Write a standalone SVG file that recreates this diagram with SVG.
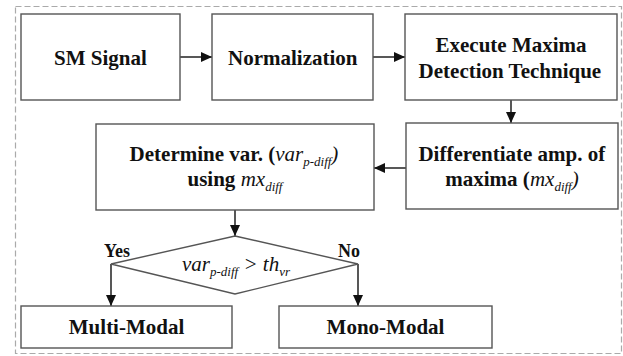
<svg xmlns="http://www.w3.org/2000/svg" width="623" height="356" viewBox="0 0 623 356">
<style>
.nbox{fill:#fff;stroke:#555;stroke-width:1.4}
.conn{fill:none;stroke:#111;stroke-width:1.4}
.ntext{font-family:'Liberation Serif',serif;font-size:21px;font-weight:bold;fill:#111}
.ital{font-style:italic;font-weight:normal}
.subs{font-size:13px;font-style:italic;font-weight:normal}
.elbl{font-family:'Liberation Serif',serif;font-size:18px;font-weight:bold;fill:#111}
</style>
<defs>
<marker id="ah" markerUnits="userSpaceOnUse" markerWidth="12" markerHeight="12" viewBox="0 0 12 12" refX="11" refY="6" orient="auto">
<path d="M0,1 L11,6 L0,11 Z" fill="#111"/>
</marker>
</defs>
<rect x="15.5" y="6.5" width="606" height="347" fill="#fff" stroke="#aaa" stroke-width="1.2" stroke-dasharray="6,3"/>
<g id="connectors">
<line class="conn" x1="180" y1="57" x2="212" y2="57" marker-end="url(#ah)"/>
<line class="conn" x1="373" y1="57" x2="405" y2="57" marker-end="url(#ah)"/>
<line class="conn" x1="511" y1="100" x2="511" y2="123" marker-end="url(#ah)"/>
<line class="conn" x1="406" y1="168" x2="374" y2="168" marker-end="url(#ah)"/>
<line class="conn" x1="235" y1="210" x2="235" y2="236" marker-end="url(#ah)"/>
<line class="conn" x1="111" y1="264" x2="111" y2="306" marker-end="url(#ah)"/>
<line class="conn" x1="358" y1="264" x2="358" y2="306" marker-end="url(#ah)"/>
</g>
<g id="sm-signal">
<rect class="nbox" x="21" y="14" width="159" height="86"/>
<text class="ntext" x="54" y="65">SM Signal</text>
</g>
<g id="normalization">
<rect class="nbox" x="212" y="14" width="161" height="86"/>
<text class="ntext" x="228" y="65">Normalization</text>
</g>
<g id="execute">
<rect class="nbox" x="405" y="14" width="212" height="86"/>
<text class="ntext" x="435.5" y="52">Execute Maxima</text>
<text class="ntext" x="418.6" y="78">Detection Technique</text>
</g>
<g id="differentiate">
<rect class="nbox" x="406" y="123" width="212" height="86"/>
<text class="ntext" x="418.4" y="161">Differentiate amp. of</text>
<text class="ntext" x="445.3" y="186">maxima (<tspan class="ital">mx</tspan><tspan class="subs" dy="5">diff</tspan><tspan class="ital" dy="-5">)</tspan></text>
</g>
<g id="determine">
<rect class="nbox" x="96" y="124" width="278" height="86"/>
<text class="ntext" x="129.6" y="161">Determine var. (<tspan class="ital">var</tspan><tspan class="subs" dy="5">p-diff</tspan><tspan class="ital" dy="-5">)</tspan></text>
<text class="ntext" x="187.5" y="186">using <tspan class="ital">mx</tspan><tspan class="subs" dy="5">diff</tspan></text>
</g>
<g id="decision">
<polygon class="nbox" points="235,236 358,264 235,294 111,264"/>
<text class="ntext" x="182" y="271"><tspan class="ital">var</tspan><tspan class="subs" dy="5">p-diff</tspan><tspan class="ital" dy="-5"> &gt; th</tspan><tspan class="subs" dy="5">vr</tspan></text>
<text class="elbl" x="104" y="257">Yes</text>
<text class="elbl" x="338" y="257">No</text>
</g>
<g id="multi-modal">
<rect class="nbox" x="21" y="306" width="211" height="42"/>
<text class="ntext" x="68.8" y="334">Multi-Modal</text>
</g>
<g id="mono-modal">
<rect class="nbox" x="279" y="306" width="213" height="42"/>
<text class="ntext" x="326.6" y="334">Mono-Modal</text>
</g>
</svg>
